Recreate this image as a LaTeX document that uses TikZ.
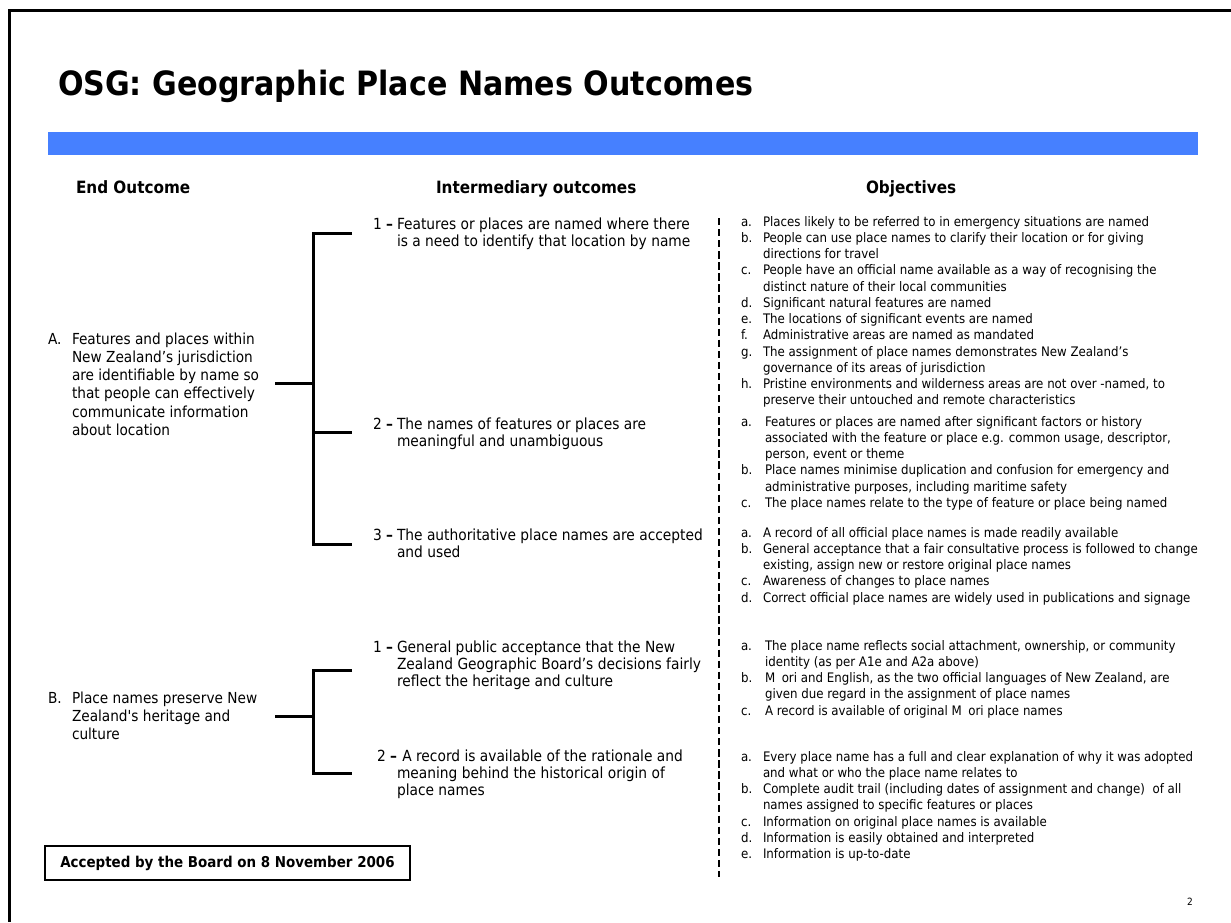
\documentclass[tikz,border=0pt]{standalone}
\usepackage{fontspec}
\setmainfont{DejaVu Sans Condensed}
\definecolor{barblue}{RGB}{70,128,255}
\newcommand\fobj{\fontsize{9.85}{12.2}\selectfont}
\newcommand\fmid{\fontsize{11.5}{13.1}\selectfont}
\newcommand\fend{\fontsize{11.4}{13.7}\selectfont}
\newcommand\fhead{\fontsize{12.7}{14}\selectfont\bfseries}
\begin{document}
\begin{tikzpicture}[x=0.75pt,y=-0.75pt,
  txt/.style={anchor=base west, inner sep=0pt, outer sep=0pt},
  objtxt/.style={txt, font=\fobj},
  midtxt/.style={txt, font=\fmid},
  endtxt/.style={txt, font=\fend},
  headtxt/.style={txt, font=\fhead},
  bracket/.style={line width=2.25pt},
  divider/.style={line width=2.2pt, dash pattern=on 5.5pt off 2.8pt},
  frameline/.style={line width=2.25pt}]
\useasboundingbox (0,0) rectangle (1231,922);
\fill[white] (0,0) rectangle (1231,922);
% frame
\draw[frameline] (1231,10) -- (9,10) -- (9,922);
% title
\node[txt, font=\fontsize{25.1}{28}\selectfont\bfseries] (title) at (58,95) {OSG: Geographic Place Names Outcomes};
\fill[barblue] (48,132) rectangle (1198,155);
% headings
\node[headtxt] (hEnd) at (76,193) {End Outcome};
\node[headtxt] (hMid) at (436,193) {Intermediary outcomes};
\node[headtxt] (hObj) at (866,193) {Objectives};
% end outcomes
\node[endtxt] (eA) at (48,344) {\begin{tabular}[t]{@{}p{18pt}@{}l@{}}
A. & Features and places within\\
 & New Zealand’s jurisdiction\\
 & are identifiable by name so\\
 & that people can effectively\\
 & communicate information\\
 & about location
\end{tabular}};
\node[endtxt] (eB) at (48,703) {\begin{tabular}[t]{@{}p{18pt}@{}l@{}}
B. & Place names preserve New\\
 & Zealand\textquotesingle s heritage and\\
 & culture
\end{tabular}};
% intermediary outcomes
\node[midtxt] (iA1) at (373,229) {\begin{tabular}[t]{@{}p{18pt}@{}l@{}}
1 \textbf{--} & Features or places are named where there\\
 & is a need to identify that location by name
\end{tabular}};
\node[midtxt] (iA2) at (373,429) {\begin{tabular}[t]{@{}p{18pt}@{}l@{}}
2 \textbf{--} & The names of features or places are\\
 & meaningful and unambiguous
\end{tabular}};
\node[midtxt] (iA3) at (373,540) {\begin{tabular}[t]{@{}p{18pt}@{}l@{}}
3 \textbf{--} & The authoritative place names are accepted\\
 & and used
\end{tabular}};
\node[midtxt] (iB1) at (373,652) {\begin{tabular}[t]{@{}p{18pt}@{}l@{}}
1 \textbf{--} & General public acceptance that the New\\
 & Zealand Geographic Board’s decisions fairly\\
 & reflect the heritage and culture
\end{tabular}};
\node[midtxt] (iB2) at (377,761) {\begin{tabular}[t]{@{}p{15pt}@{}l@{}}
2 \textbf{--} & \hspace*{4pt}A record is available of the rationale and\\
 & meaning behind the historical origin of\\
 & place names
\end{tabular}};
% brackets
\coordinate (sA) at (275,383);
\coordinate (jA) at (313,383);
\coordinate (tA1) at (352,233);
\coordinate (tA2) at (352,432);
\coordinate (tA3) at (352,544);
\draw[bracket] (sA) -- (jA);
\draw[bracket] (tA1) -| (jA |- tA3) -- (tA3);
\draw[bracket] (jA |- tA2) -- (tA2);
\coordinate (sB) at (275,716);
\coordinate (jB) at (313,716);
\coordinate (tB1) at (352,670);
\coordinate (tB2) at (352,773);
\draw[bracket] (sB) -- (jB);
\draw[bracket] (tB1) -| (jB |- tB2) -- (tB2);
% divider
\coordinate (dTop) at (719,218);
\coordinate (dBot) at (719,877);
\draw[divider] (dTop) -- (dBot);
% objectives
\node[objtxt] (oA1) at (741,226) {\begin{tabular}[t]{@{}p{16.5pt}@{}l@{}}
a. & Places likely to be referred to in emergency situations are named\\
b. & People can use place names to clarify their location or for giving\\
 & directions for travel\\
c. & People have an official name available as a way of recognising the\\
 & distinct nature of their local communities\\
d. & Significant natural features are named\\
e. & The locations of significant events are named\\
f. & Administrative areas are named as mandated\\
g. & The assignment of place names demonstrates New Zealand’s\\
 & governance of its areas of jurisdiction\\
h. & Pristine environments and wilderness areas are not over -named, to\\
 & preserve their untouched and remote characteristics
\end{tabular}};
\node[objtxt] (oA2) at (741,426) {\begin{tabular}[t]{@{}p{18pt}@{}l@{}}
a. & Features or places are named after significant factors or history\\
 & associated with the feature or place e.g. common usage, descriptor,\\
 & person, event or theme\\
b. & Place names minimise duplication and confusion for emergency and\\
 & administrative purposes, including maritime safety\\
c. & The place names relate to the type of feature or place being named
\end{tabular}};
\node[objtxt] (oA3) at (741,537) {\begin{tabular}[t]{@{}p{16.5pt}@{}l@{}}
a. & A record of all official place names is made readily available\\
b. & General acceptance that a fair consultative process is followed to change\\
 & existing, assign new or restore original place names\\
c. & Awareness of changes to place names\\
d. & Correct official place names are widely used in publications and signage
\end{tabular}};
\node[objtxt] (oB1) at (741,650) {\begin{tabular}[t]{@{}p{18pt}@{}l@{}}
a. & The place name reflects social attachment, ownership, or community\\
 & identity (as per A1e and A2a above)\\
b. & M\hspace{0.5em}ori and English, as the two official languages of New Zealand, are\\
 & given due regard in the assignment of place names\\
c. & A record is available of original M\hspace{0.5em}ori place names
\end{tabular}};
\node[objtxt] (oB2) at (741,761) {\begin{tabular}[t]{@{}p{16.5pt}@{}l@{}}
a. & Every place name has a full and clear explanation of why it was adopted\\
 & and what or who the place name relates to\\
b. & Complete audit trail (including dates of assignment and change)\ \ of all\\
 & names assigned to specific features or places\\
c. & Information on original place names is available\\
d. & Information is easily obtained and interpreted\\
e. & Information is up-to-date
\end{tabular}};
% accepted box
\node[draw, line width=1.5pt, minimum width=273.75pt, minimum height=25.5pt, inner sep=0pt,
  font=\fontsize{11.2}{13}\selectfont\bfseries] (acc) at (227.5,863) {Accepted by the Board on 8 November 2006};
% page number
\node[inner sep=0pt, font=\fontsize{7.5}{9}\selectfont] (pg) at (1190,902) {2};
\end{tikzpicture}
\end{document}
